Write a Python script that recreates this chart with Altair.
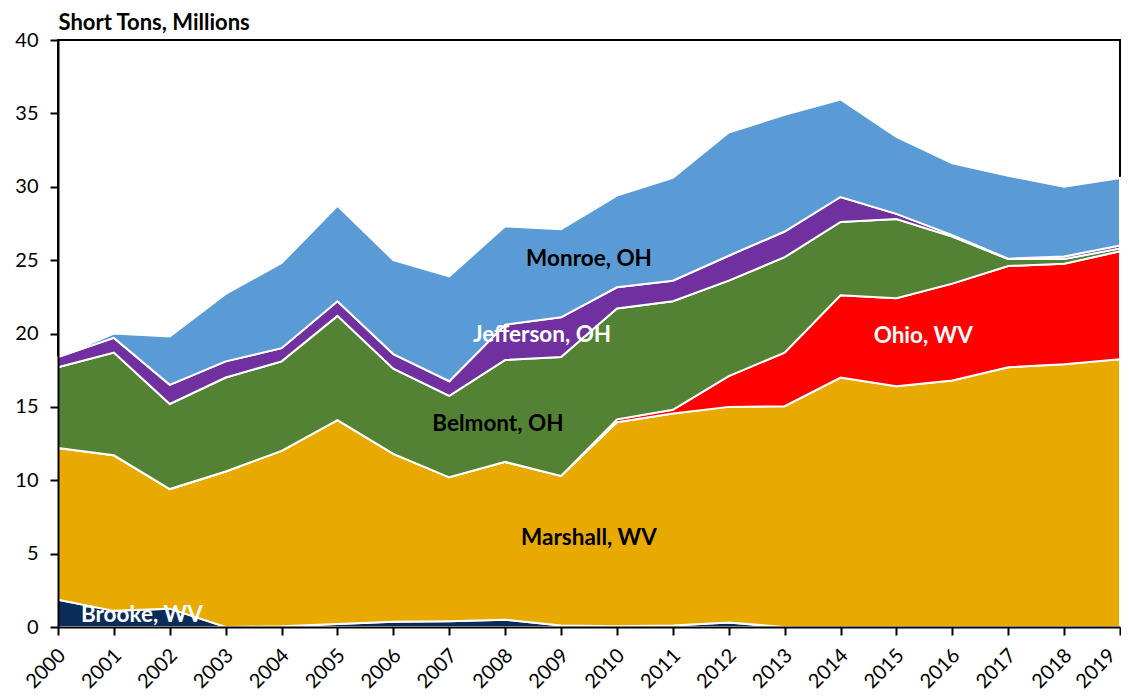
import altair as alt
import pandas as pd

years = list(range(2000, 2020))
series_names = ["Brooke, WV", "Marshall, WV", "Ohio, WV", "Belmont, OH", "Jefferson, OH", "Monroe, OH"]
series_colors = ["#0B2C59", "#E9AA00", "#FF0000", "#548235", "#7030A0", "#5B9BD5"]

brooke = [1.86, 1.1, 1.25, 0, 0.05, 0.2, 0.35, 0.4, 0.5, 0.1, 0.05, 0.1, 0.3, 0, 0, 0, 0, 0, 0, 0]
marshall = [10.34, 10.6, 8.15, 10.6, 11.95, 13.9, 11.45, 9.8, 10.75, 10.2, 13.9, 14.45, 14.7, 15.05, 17.0, 16.4, 16.8, 17.7, 17.9, 18.25]
ohio = [0, 0, 0, 0, 0, 0, 0, 0, 0, 0, 0.2, 0.25, 2.1, 3.65, 5.6, 6.0, 6.6, 6.9, 6.85, 7.35]
belmont = [5.5, 7.0, 5.8, 6.4, 6.1, 7.1, 5.8, 5.55, 6.95, 8.1, 7.55, 7.4, 6.5, 6.5, 5.0, 5.4, 3.2, 0.47, 0.32, 0.2]
jefferson = [0.7, 1.0, 1.3, 1.1, 0.9, 1.0, 1.0, 1.0, 2.4, 2.7, 1.45, 1.4, 1.7, 1.75, 1.7, 0.35, 0.1, 0.03, 0.18, 0.2]
monroe = [0.0, 0.3, 3.3, 4.6, 5.8, 6.5, 6.4, 7.15, 6.7, 6.0, 6.25, 7.0, 8.4, 7.95, 6.65, 5.25, 4.9, 5.65, 4.75, 4.6]

# in-chart series labels (data coordinates)
label_text = ["Brooke, WV", "Marshall, WV", "Ohio, WV", "Belmont, OH", "Jefferson, OH", "Monroe, OH"]
label_year = [2001.5, 2009.5, 2015.48, 2007.87, 2008.66, 2009.5]
label_value = [0.85, 6.07, 19.8, 13.8, 19.9, 25.1]
label_color = ["white", "black", "white", "black", "white", "black"]

y_ticks = [0, 5, 10, 15, 20, 25, 30, 35, 40]

rows = []
for i, (name, vals) in enumerate(zip(series_names, [brooke, marshall, ohio, belmont, jefferson, monroe])):
    for yr, v in zip(years, vals):
        rows.append({"year": yr, "county": name, "tons": v, "order": i})
df = pd.DataFrame(rows)

labels_df = pd.DataFrame({"text": label_text, "year": label_year, "tons": label_value, "lc": label_color})

FONT = "Lato"

x_enc = alt.X(
    "year:Q",
    scale=alt.Scale(domain=[2000, 2019], nice=False, zero=False),
    axis=alt.Axis(
        values=years, format="d", labelAngle=-45, labelAlign="right", labelBaseline="middle",
        labelPadding=17,
        labelOffset={"condition": {"test": "datum.value == 2019", "value": -8}, "value": 4},
        labelOverlap=False, labelBound=False, tickSize=8, tickWidth=2,
        tickColor="black", domainColor="black", domainWidth=2, grid=False, labelFontSize=20,
        labelFont=FONT, labelColor="black", zindex=2, title=None,
    ),
)
y_enc = alt.Y(
    "tons:Q",
    stack="zero",
    scale=alt.Scale(domain=[0, 40], nice=False),
    axis=alt.Axis(
        values=y_ticks, tickSize=8, tickWidth=2, tickColor="black", domainColor="black",
        domainWidth=2, grid=False, labelFontSize=20, labelFont=FONT, labelColor="black",
        labelPadding=12, zindex=2,
        title="Short Tons, Millions", titleAngle=0, titleX=0, titleY=-11, titleAlign="left",
        titleBaseline="alphabetic", titleFontSize=22, titleFontWeight="bold", titleFont=FONT,
        titleColor="black",
    ),
)

area = alt.Chart(df).mark_area(stroke="white", strokeWidth=2, strokeJoin="miter").encode(
    x=x_enc,
    y=y_enc,
    color=alt.Color("county:N", scale=alt.Scale(domain=series_names, range=series_colors), legend=None),
    order=alt.Order("order:Q", sort="ascending"),
)

text = alt.Chart(labels_df).mark_text(font=FONT, fontSize=22.5, fontWeight="bold", align="center", baseline="middle").encode(
    x=alt.X("year:Q"),
    y=alt.Y("tons:Q"),
    text="text:N",
    color=alt.Color("lc:N", scale=None),
)

chart = alt.layer(area, text).properties(
    width=1062,
    height=587,
    background="white",
    autosize=alt.AutoSizeParams(type="none"),
    padding={"left": 50, "top": 32, "right": 1, "bottom": 70},
).configure_view(stroke="black", strokeWidth=2)

chart.save("out.html", embed_options={"renderer": "svg", "actions": False})
